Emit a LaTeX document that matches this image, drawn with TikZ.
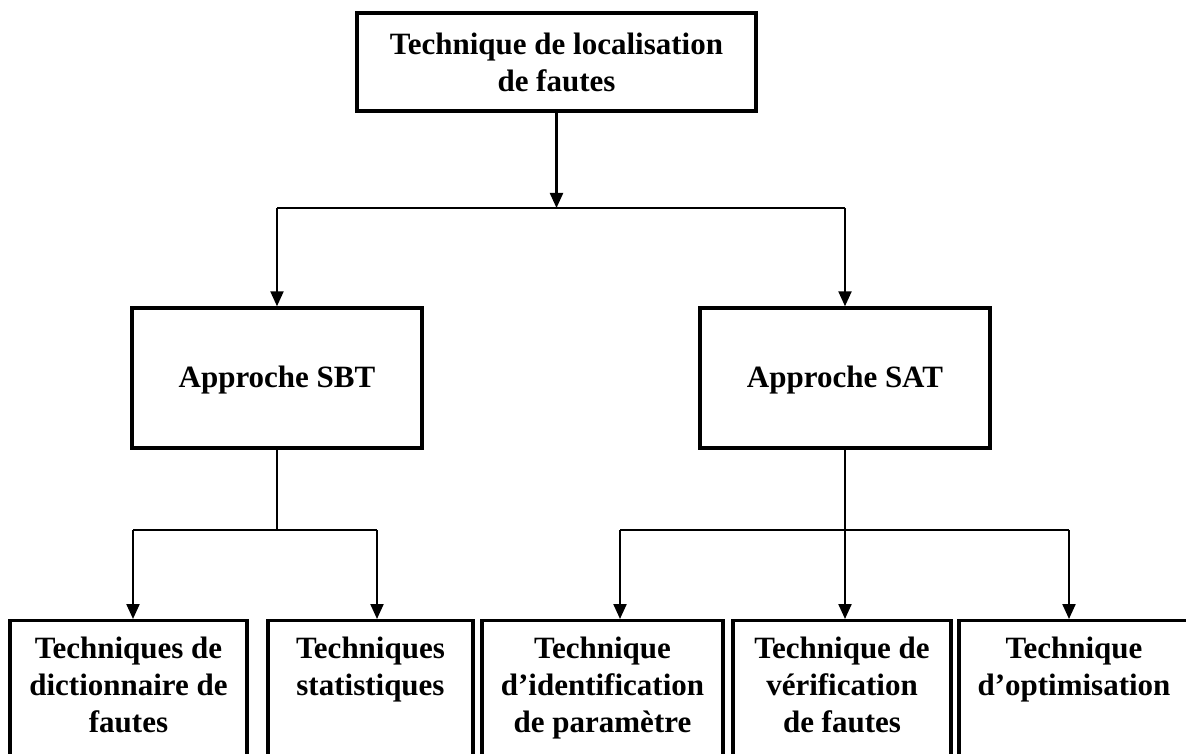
\documentclass[tikz,border=0pt]{standalone}
\usepackage{fontspec}
\setmainfont{Liberation Serif}
\usetikzlibrary{arrows.meta}
\begin{document}
\begin{tikzpicture}[x=1pt,y=-1pt,
  box/.style={draw, line width=3.4pt, inner sep=0pt},
  link/.style={line width=2.2pt},
  arr/.style={link, -{Triangle[length=15pt,width=13pt]}},
  txt/.style={font=\fontsize{31}{37}\selectfont\bfseries, align=center, inner sep=0pt}]
\useasboundingbox (0,0) rectangle (1186,754);

% root
\node[box, minimum width=399pt, minimum height=98pt] (top) at (556.5,62) {};
\node[txt] (topt) at (top.center) {Technique de localisation\\de fautes};

% the two approaches
\node[box, minimum width=290pt, minimum height=140pt] (sbt) at (277,378) {};
\node[txt] (sbtt) at ([yshift=-2pt]sbt.center) {Approche SBT};
\node[box, minimum width=290pt, minimum height=140pt] (sat) at (845,378) {};
\node[txt] (satt) at ([yshift=-2pt]sat.center) {Approche SAT};

% the techniques (boxes run past the lower edge)
\node[box, anchor=north, minimum width=237pt, minimum height=170pt] (b1) at (128.5,619) {};
\node[box, anchor=north, minimum width=205pt, minimum height=170pt] (b2) at (370.5,619) {};
\node[box, anchor=north, minimum width=241pt, minimum height=170pt] (b3) at (602.5,619) {};
\node[box, anchor=north, minimum width=218pt, minimum height=170pt] (b4) at (842,619) {};
\node[box, anchor=north, minimum width=230pt, minimum height=170pt] (b5) at (1074,619) {};
\node[txt, anchor=north] (b1t) at ([yshift=-18pt]b1.north) {Techniques de\\dictionnaire de\\fautes};
\node[txt, anchor=north] (b2t) at ([yshift=-18pt]b2.north) {Techniques\\statistiques};
\node[txt, anchor=north] (b3t) at ([yshift=-18pt]b3.north) {Technique\\d’identification\\de paramètre};
\node[txt, anchor=north] (b4t) at ([yshift=-18pt]b4.north) {Technique de\\vérification\\de fautes};
\node[txt, anchor=north] (b5t) at ([yshift=-18pt]b5.north) {Technique\\d’optimisation};

% first level of connectors
\coordinate (hub) at (556.5,208);
\coordinate (hubL) at (277,208);
\coordinate (hubR) at (845,208);
\draw[arr] (top.south) -- (hub);
\draw[link] (hubL) -- (hubR);
\draw[arr] (hubL) -- (sbt.north);
\draw[arr] (hubR) -- (sat.north);

% SBT branch
\coordinate (sbtJ) at (277,530);
\coordinate (j1) at (133,530);
\coordinate (j2) at (377,530);
\draw[link] (sbt.south) -- (sbtJ);
\draw[link] (j1) -- (j2);
\draw[arr] (j1) -- (j1 |- b1.north);
\draw[arr] (j2) -- (j2 |- b2.north);

% SAT branch
\coordinate (j3) at (620,530);
\coordinate (j4) at (845,530);
\coordinate (j5) at (1069,530);
\draw[link] (sat.south) -- (j4);
\draw[link] (j3) -- (j5);
\draw[arr] (j3) -- (j3 |- b3.north);
\draw[arr] (j4) -- (j4 |- b4.north);
\draw[arr] (j5) -- (j5 |- b5.north);
\end{tikzpicture}
\end{document}
